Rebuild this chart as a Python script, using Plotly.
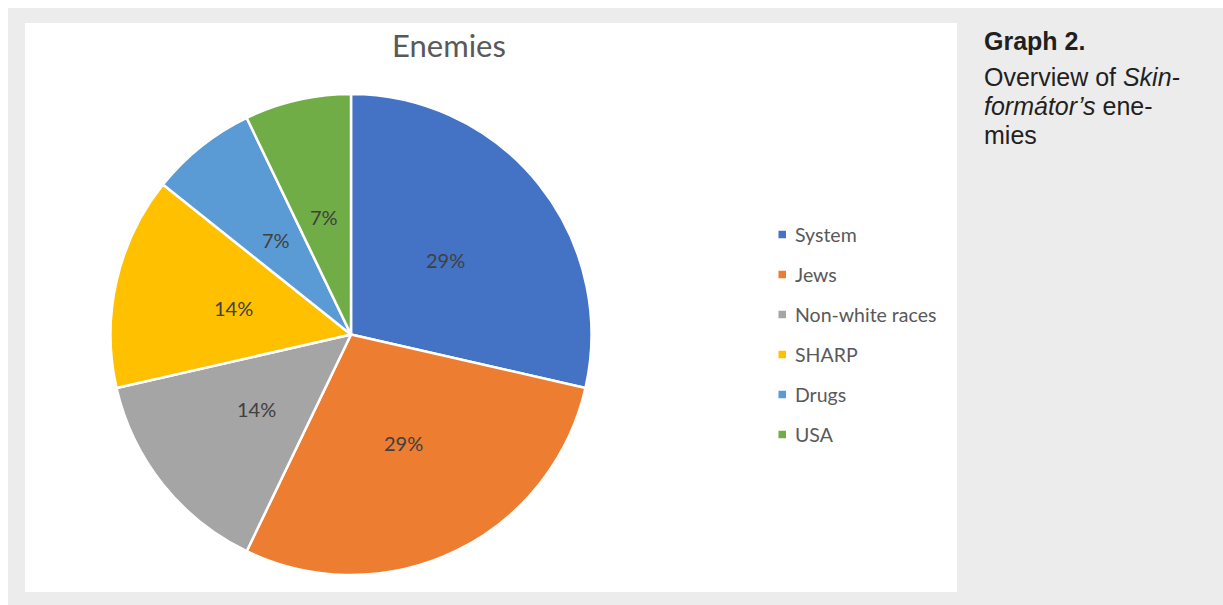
import math
import plotly.graph_objects as go

# ---- data ----
categories = ["System", "Jews", "Non-white races", "SHARP", "Drugs", "USA"]
counts = [4, 4, 2, 2, 1, 1]
colors = ["#4472C4", "#ED7D31", "#A5A5A5", "#FFC000", "#5B9BD5", "#70AD47"]
title_text = "Enemies"

W, H = 1223, 605
CX, CY, R = 351, 334.5, 240.5
FONT = "Lato, Carlito, Calibri, sans-serif"

def px(x):
    return x / W

def py(y):
    return 1 - y / H

fig = go.Figure()
fig.add_trace(go.Pie(
    labels=categories,
    values=counts,
    sort=False,
    direction="clockwise",
    rotation=0,
    marker=dict(colors=colors, line=dict(color="white", width=2.5)),
    textinfo="none",
    hoverinfo="label+percent",
    showlegend=False,
    domain=dict(x=[px(CX - R), px(CX + R)], y=[py(CY + R), py(CY - R)]),
))

shapes = [
    dict(type="rect", xref="paper", yref="paper", x0=px(8), x1=1, y0=0, y1=py(8),
         fillcolor="#ECECEC", line=dict(width=0), layer="below"),
    dict(type="rect", xref="paper", yref="paper", x0=px(25), x1=px(957), y0=py(592), y1=py(23),
         fillcolor="white", line=dict(width=0), layer="below"),
]
annotations = []

# percentage labels at half radius along each slice bisector
total = sum(counts)
cum = 0
for c in counts:
    mid = (cum + c / 2) / total * 2 * math.pi
    cum += c
    lx = CX + 0.5 * R * math.sin(mid)
    ly = CY - 0.5 * R * math.cos(mid)
    annotations.append(dict(
        x=px(lx), y=py(ly), xref="paper", yref="paper", showarrow=False,
        text=f"{round(c / total * 100)}%", xanchor="center", yanchor="middle",
        font=dict(family=FONT, size=20, color="#404040"),
    ))

# legend
for i, (cat, col) in enumerate(zip(categories, colors)):
    yc = 234.5 + 40 * i
    shapes.append(dict(type="rect", xref="paper", yref="paper",
                       x0=px(778.5), x1=px(786), y0=py(yc + 3.75), y1=py(yc - 3.75),
                       fillcolor=col, line=dict(width=0)))
    annotations.append(dict(
        x=px(793), y=py(yc - 0.5), xref="paper", yref="paper", showarrow=False,
        text=cat, xanchor="left", yanchor="middle",
        font=dict(family=FONT, size=19.5, color="#595959"),
    ))

# chart title
annotations.append(dict(
    x=px(449), y=py(45), xref="paper", yref="paper", showarrow=False,
    text=title_text, xanchor="center", yanchor="middle",
    font=dict(family=FONT, size=31, color="#595959"),
))

# caption on the right
cap_font = dict(family="Liberation Sans, Arial, sans-serif", size=25, color="#231F20")
cap_lines = [
    ("<b>Graph 2.</b>", 41),
    ("Overview of <i>Skin-</i>", 77),
    ("<i>formátor’s</i> ene-", 106),
    ("mies", 135),
]
for txt, yc in cap_lines:
    annotations.append(dict(
        x=px(982), y=py(yc), xref="paper", yref="paper", showarrow=False,
        text=txt, xanchor="left", yanchor="middle", font=cap_font,
    ))

fig.update_layout(
    width=W, height=H,
    margin=dict(l=0, r=0, t=0, b=0),
    paper_bgcolor="white",
    plot_bgcolor="white",
    shapes=shapes,
    annotations=annotations,
    showlegend=False,
)

fig.write_html("out.html")
